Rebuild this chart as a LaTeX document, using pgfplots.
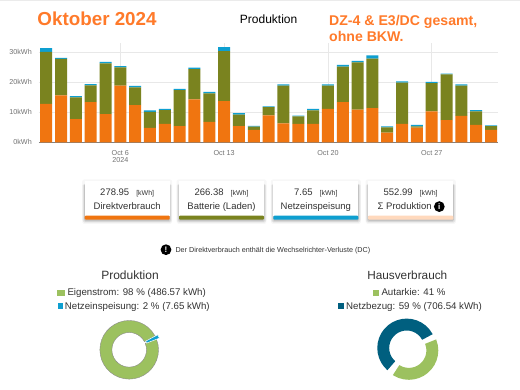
\documentclass[border=0pt]{standalone}
\usepackage{fontspec}
\setmainfont{Liberation Sans}
\usepackage{pgfplots}
\pgfplotsset{compat=1.18}
\definecolor{cOrange}{HTML}{F07510}
\definecolor{cOlive}{HTML}{7A831F}
\definecolor{cBlue}{HTML}{0E9FD0}
\definecolor{cTitle}{HTML}{FF7A2A}
\definecolor{cGreen}{HTML}{9CC15F}
\definecolor{cTeal}{HTML}{005F7F}
\definecolor{cPeach}{HTML}{FFD9BD}
\definecolor{cText}{HTML}{333333}
\newcommand\fs[1]{\fontsize{#1}{#1}\selectfont}
\newcommand\card[6]{% x1,x2,col,value,label,shift
  \fill[black,opacity=0.03,rounded corners=2pt] (#1-2.5,179.5) rectangle (#2+2.5,222);
  \foreach \g/\o in {3.5/0.03,2.5/0.04,1.5/0.06,0.7/0.09}{\fill[black,opacity=\o,rounded corners=1.5pt] (#1-\g*0.7,184) rectangle (#2+\g*0.7,219.7+\g+0.6);}
  \fill[white] (#1,180.7) rectangle (#2,216);
  \fill[#3,rounded corners=1pt] (#1,215.7) rectangle (#2,219.7);
  \node[anchor=mid,inner sep=0,text=cText] at ({(#1+#2)/2},192.6) {\fs{9.5}#4\hspace{7pt}{\fs{7}[kWh]}};
  \node[anchor=mid,inner sep=0,text=cText] at ({(#1+#2)/2+#6},206.6) {\fs{9.5}#5};
}
\begin{document}
\begin{tikzpicture}
\useasboundingbox (0,0) rectangle (520pt,389pt);
\fill[white] (0,0) rectangle (520pt,389pt);
\fill[black!8] (0,388pt) rectangle (520pt,389pt);
\begin{axis}[
  at={(39pt,246.7pt)}, anchor=south west,
  scale only axis, width=459pt, height=99.3pt,
  xmin=0.515, xmax=31.47, ymin=0, ymax=33.1,
  ybar stacked, bar width=12pt,
  axis x line=bottom, axis y line=left,
  x axis line style={draw=black!50,-,line width=0.7pt},
  y axis line style={draw=none,-},
  major tick length=0pt,
  grid=major, grid style={draw=black!9,line width=0.6pt},
  xtick={6,13,20,27}, xticklabels={{Oct 6\\2024},{Oct 13},{Oct 20},{Oct 27}},
  ytick={0,10,20,30}, yticklabels={0kWh,10kWh,20kWh,30kWh},
  /pgf/number format/assume math mode=true,
  tick label style={font=\fs{7.2},text=black!55},
  x tick label style={align=center,inner sep=0pt,yshift=-7.5pt},
  y tick label style={inner sep=0pt,xshift=-7pt},
  clip=false,
]
\addplot[fill=cOrange,draw=none] coordinates {(1,12.8)(2,15.6)(3,7.7)(4,13.4)(5,9.4)(6,18.9)(7,12.4)(8,4.8)(9,6.1)(10,5.4)(11,14.3)(12,6.8)(13,13.7)(14,5.4)(15,4.1)(16,9.0)(17,6.3)(18,6.1)(19,6.1)(20,11.1)(21,13.4)(22,10.9)(23,11.4)(24,3.2)(25,6.1)(26,4.9)(27,10.3)(28,7.4)(29,8.8)(30,5.8)(31,4.1)};
\addplot[fill=cOlive,draw=none] coordinates {(1,17.3)(2,12.2)(3,7.3)(4,5.6)(5,16.9)(6,6.1)(7,5.9)(8,5.3)(9,4.6)(10,12.0)(11,10.1)(12,9.5)(13,16.7)(14,3.8)(15,1.1)(16,2.7)(17,12.6)(18,2.5)(19,4.5)(20,7.8)(21,11.8)(22,15.7)(23,16.5)(24,1.8)(25,13.8)(26,0.4)(27,9.4)(28,15.2)(29,10.1)(30,4.5)(31,1.3)};
\addplot[fill=cBlue,draw=none] coordinates {(1,1.3)(2,0.3)(3,0.4)(4,0.4)(5,0.5)(6,0.4)(7,0.5)(8,0.5)(9,0.4)(10,0.4)(11,0.5)(12,0.5)(13,1.3)(14,0.5)(15,0.3)(16,0.3)(17,0.4)(18,0.3)(19,0.5)(20,0.4)(21,0.6)(22,0.5)(23,1.1)(24,0.3)(25,0.4)(26,0.5)(27,0.4)(28,0.3)(29,0.4)(30,0.4)(31,0.2)};
\end{axis}
% left donut
\begin{axis}[at={(129.2pt,39.2pt)},anchor=center,x=1pt,y=1pt,xmin=-40,xmax=40,ymin=-40,ymax=40,hide axis,clip=false,scale only axis]
\addplot[data cs=polar,fill=cGreen,draw=black!45,line width=0.4pt] coordinates {(28,29.3)(40,29.3)(50,29.3)(60,29.3)(70,29.3)(80,29.3)(90,29.3)(100,29.3)(110,29.3)(120,29.3)(130,29.3)(140,29.3)(150,29.3)(160,29.3)(170,29.3)(180,29.3)(190,29.3)(200,29.3)(210,29.3)(220,29.3)(230,29.3)(240,29.3)(250,29.3)(260,29.3)(270,29.3)(280,29.3)(290,29.3)(300,29.3)(310,29.3)(320,29.3)(330,29.3)(340,29.3)(350,29.3)(360,29.3)(370,29.3)(382,29.3)(382,17.3)(370,17.3)(360,17.3)(350,17.3)(340,17.3)(330,17.3)(320,17.3)(310,17.3)(300,17.3)(290,17.3)(280,17.3)(270,17.3)(260,17.3)(250,17.3)(240,17.3)(230,17.3)(220,17.3)(210,17.3)(200,17.3)(190,17.3)(180,17.3)(170,17.3)(160,17.3)(150,17.3)(140,17.3)(130,17.3)(120,17.3)(110,17.3)(100,17.3)(90,17.3)(80,17.3)(70,17.3)(60,17.3)(50,17.3)(40,17.3)(28,17.3)} --cycle;
\addplot[data cs=polar,fill=cBlue,draw=white,line width=0.5pt,xshift=1.2pt,yshift=0.5pt] coordinates {(21,31)(24,31)(28,31)(28,17.3)(24,17.3)(21,17.3)} --cycle;
\end{axis}
% right donut
\begin{axis}[at={(407.8pt,39.8pt)},anchor=center,x=1pt,y=1pt,xmin=-40,xmax=40,ymin=-40,ymax=40,hide axis,clip=false,scale only axis]
\addplot[data cs=polar,fill=cTeal,draw=none,xshift=-1.1pt,yshift=1.2pt] coordinates {(28,29.4)(40,29.4)(50,29.4)(60,29.4)(70,29.4)(80,29.4)(90,29.4)(100,29.4)(110,29.4)(120,29.4)(130,29.4)(140,29.4)(150,29.4)(160,29.4)(170,29.4)(180,29.4)(190,29.4)(200,29.4)(210,29.4)(220,29.4)(229,29.4)(229,17.5)(220,17.5)(210,17.5)(200,17.5)(190,17.5)(180,17.5)(170,17.5)(160,17.5)(150,17.5)(140,17.5)(130,17.5)(120,17.5)(110,17.5)(100,17.5)(90,17.5)(80,17.5)(70,17.5)(60,17.5)(50,17.5)(40,17.5)(28,17.5)} --cycle;
\addplot[data cs=polar,fill=cGreen,draw=none,xshift=1.1pt,yshift=-1.2pt] coordinates {(-123,29.4)(-120,29.4)(-110,29.4)(-100,29.4)(-90,29.4)(-80,29.4)(-70,29.4)(-60,29.4)(-50,29.4)(-40,29.4)(-30,29.4)(-20,29.4)(-10,29.4)(0,29.4)(10,29.4)(22,29.4)(22,17.5)(10,17.5)(0,17.5)(-10,17.5)(-20,17.5)(-30,17.5)(-40,17.5)(-50,17.5)(-60,17.5)(-70,17.5)(-80,17.5)(-90,17.5)(-100,17.5)(-110,17.5)(-120,17.5)(-123,17.5)} --cycle;
\end{axis}
\begin{scope}[shift={(0,389pt)},x=1pt,y=-1pt]
\node[anchor=mid west,inner sep=0,text=cTitle] at (37.3,23) {\fs{18.8}\bfseries Oktober 2024};
\node[anchor=mid,inner sep=0,text=black] at (268.6,20.5) {\fs{12}Produktion};
\node[anchor=mid west,inner sep=0,text=cTitle] at (329,23) {\fs{14.1}\bfseries DZ-4 \& E3/DC gesamt,};
\node[anchor=mid west,inner sep=0,text=cTitle] at (329,39) {\fs{14.1}\bfseries ohne BKW.};
\card{84.7}{169.7}{cOrange}{278.95}{Direktverbrauch}{0}
\card{179}{264}{cOlive}{266.38}{Batterie (Laden)}{0}
\card{273.3}{358.3}{cBlue}{7.65}{Netzeinspeisung}{0}
\card{368}{453.3}{cPeach}{552.99}{Σ Produktion}{-6}
\fill[black] (439.3,206.6) circle (5.4);
\node[anchor=mid,inner sep=0,text=white] at (439.3,206.6) {\fs{8}\bfseries i};
\fill[black] (166,249.7) circle (5.4);
\node[anchor=mid,inner sep=0,text=white] at (166,249.7) {\fs{8}\bfseries !};
\node[anchor=mid west,inner sep=0,text=cText] at (175.3,249.9) {\fs{7.2}Der Direktverbrauch enthält die Wechselrichter-Verluste (DC)};
\node[anchor=mid,inner sep=0,text=cText] at (130,276.5) {\fs{12}Produktion};
\fill[cGreen] (57,289.7) rectangle (65,295.7);
\node[anchor=mid west,inner sep=0,text=cText] at (67.3,293) {\fs{9.7}Eigenstrom: 98 \% (486.57 kWh)};
\fill[cBlue] (57.5,303.3) rectangle (63,309.3);
\node[anchor=mid west,inner sep=0,text=cText] at (64.7,306.6) {\fs{9.7}Netzeinspeisung: 2 \% (7.65 kWh)};
\node[anchor=mid,inner sep=0,text=cText] at (407.3,276.5) {\fs{11.8}Hausverbrauch};
\fill[cGreen] (372.7,289.7) rectangle (378.7,295.7);
\node[anchor=mid west,inner sep=0,text=cText] at (381.3,293) {\fs{9.7}Autarkie: 41 \%};
\fill[cTeal] (338,303.3) rectangle (344,309.3);
\node[anchor=mid west,inner sep=0,text=cText] at (346,306.6) {\fs{9.7}Netzbezug: 59 \% (706.54 kWh)};
\end{scope}
\end{tikzpicture}
\end{document}
